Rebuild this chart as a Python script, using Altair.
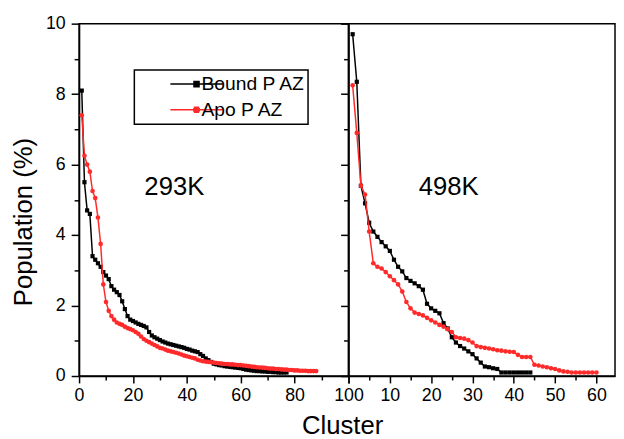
import altair as alt
import pandas as pd

series_names = ["Bound P AZ", "Apo P AZ"]
series_colors = ["#000000", "#ff2a2a"]
series_marks = ["square", "circle"]
panel_labels = ["293K", "498K"]

bound_293 = [8.1, 5.5, 4.7, 4.6, 3.4, 3.3, 3.2, 3.1, 2.95, 2.85,
             2.75, 2.55, 2.45, 2.38, 2.3, 2.12, 1.9, 1.7, 1.6, 1.56,
             1.52, 1.48, 1.45, 1.42, 1.38, 1.25, 1.15, 1.1, 1.06, 1.02,
             0.98, 0.95, 0.92, 0.9, 0.88, 0.86, 0.84, 0.82, 0.8, 0.77,
             0.75, 0.72, 0.7, 0.68, 0.62, 0.57, 0.5, 0.45, 0.4, 0.35,
             0.33, 0.31, 0.3, 0.28, 0.27, 0.26, 0.25, 0.24, 0.23, 0.22,
             0.2, 0.18, 0.17, 0.16, 0.15, 0.14, 0.14, 0.13, 0.13, 0.12,
             0.12, 0.11, 0.11, 0.1, 0.1, 0.1, 0.1]
apo_293 = [7.4, 6.25, 6.0, 5.8, 5.25, 5.05, 4.5, 3.75, 2.6, 2.1,
           1.85, 1.7, 1.6, 1.52, 1.48, 1.45, 1.4, 1.36, 1.33, 1.3,
           1.25, 1.2, 1.12, 1.05, 1.0, 0.96, 0.92, 0.88, 0.84, 0.8,
           0.78, 0.75, 0.72, 0.7, 0.68, 0.66, 0.64, 0.61, 0.58, 0.56,
           0.54, 0.52, 0.5, 0.46, 0.44, 0.42, 0.41, 0.4, 0.39, 0.38,
           0.37, 0.36, 0.35, 0.34, 0.34, 0.33, 0.33, 0.32, 0.31, 0.31,
           0.3, 0.29, 0.28, 0.27, 0.26, 0.25, 0.24, 0.24, 0.23, 0.22,
           0.21, 0.21, 0.2, 0.2, 0.19, 0.18, 0.18, 0.17, 0.17, 0.16,
           0.16, 0.15, 0.15, 0.15, 0.14, 0.14, 0.14, 0.14]
bound_498 = [9.7, 8.35, 5.4, 4.9, 4.35, 4.1, 3.95, 3.8, 3.68, 3.55,
             3.3, 3.1, 2.97, 2.78, 2.7, 2.63, 2.55, 2.45, 2.05, 1.92,
             1.85, 1.78, 1.5, 1.35, 1.1, 0.95, 0.85, 0.78, 0.7, 0.62,
             0.5, 0.38, 0.27, 0.25, 0.22, 0.2, 0.1, 0.1, 0.1, 0.1,
             0.1, 0.1, 0.1, 0.1]
apo_498 = [8.25, 6.9, 5.4, 5.15, 4.1, 3.2, 3.1, 3.05, 2.95, 2.83,
           2.72, 2.6, 2.4, 2.1, 1.92, 1.8, 1.76, 1.72, 1.65, 1.58,
           1.52, 1.45, 1.4, 1.33, 1.25, 1.1, 1.08, 1.06, 1.02, 0.95,
           0.85, 0.82, 0.8, 0.78, 0.76, 0.73, 0.72, 0.7, 0.69, 0.68,
           0.6, 0.54, 0.54, 0.54, 0.32, 0.3, 0.27, 0.25, 0.22, 0.2,
           0.16, 0.13, 0.12, 0.1, 0.1, 0.1, 0.1, 0.1, 0.1, 0.1]

x_ticks_left = list(range(0, 101, 10))
x_ticks_right = list(range(0, 61, 5))
y_ticks = list(range(0, 11))

FONT = "Liberation Sans"
# legend glyphs: a line with a (hatch-filled) square / round marker in its middle
SQ_PATH = ("M0,0L2,0M0.875,-0.1L1.125,-0.1M0.875,-0.05L1.125,-0.05"
           "M0.875,0.05L1.125,0.05M0.875,0.1L1.125,0.1")
CI_PATH = ("M0,0L2,0M0.869,-0.05L1.131,-0.05M0.869,0.05L1.131,0.05"
           "M0.902,-0.1L1.098,-0.1M0.902,0.1L1.098,0.1")

legend_color_expr = "indexof(%s, datum.value) === 1 ? '%s' : '%s'" % (
    str(series_names), series_colors[1], series_colors[0])


def frame(bound, apo):
    rows = []
    for name, vals in zip(series_names, [bound, apo]):
        for i, v in enumerate(vals, start=1):
            rows.append({"cluster": i, "pop": v, "series": name})
    return pd.DataFrame(rows)


def cond(test, major, minor):
    return {"condition": {"test": test, "value": major}, "value": minor}


legend = alt.Legend(
    title=None, orient="none", legendX=56, legendY=47, direction="vertical",
    symbolSize=2809, symbolStrokeWidth=1.5, clipHeight=24.5, rowPadding=1,
    padding=2, symbolOffset=7, labelOffset=4, labelFontSize=19.5,
    labelFont=FONT, labelColor="black", strokeColor="black", fillColor="white",
    symbolStrokeColor={"expr": legend_color_expr}, labelLimit=300,
)


def panel(df, xdom, width, xaxis, yaxis, text, tx, show_legend):
    X = alt.X("cluster:Q", scale=alt.Scale(domain=xdom, nice=False, zero=False), axis=xaxis)
    Y = alt.Y("pop:Q", scale=alt.Scale(domain=[0, 10], nice=False), axis=yaxis)
    base = alt.Chart(df)
    layers = []
    for name, col, shp in zip(series_names, series_colors, series_marks):
        sub = base.transform_filter(alt.datum.series == name)
        layers.append(sub.mark_line(color=col, strokeWidth=1.5).encode(x=X, y=Y))
        layers.append(sub.mark_point(shape=shp, filled=True, color=col, opacity=1,
                                     size=18 if shp == "square" else 22).encode(x=X, y=Y))
    if show_legend:
        shape = alt.Shape("series:N", scale=alt.Scale(domain=series_names, range=[SQ_PATH, CI_PATH]),
                          legend=legend)
        leg_layer = base.transform_filter("datum.cluster < 0").mark_point(
            filled=False, opacity=1, strokeWidth=1.5, color="black").encode(x=X, y=Y, shape=shape)
        layers.append(leg_layer)
    lab = alt.Chart(pd.DataFrame({"label": [text]})).mark_text(
        font=FONT, fontSize=26, color="black", align="center", baseline="middle"
    ).encode(x=alt.value(tx), y=alt.value(166), text="label:N")
    layers.append(lab)
    return alt.layer(*layers).properties(width=width, height=357)


x_axis_left = alt.Axis(
    values=x_ticks_left,
    labelExpr="datum.value % 20 === 0 ? datum.label : ''",
    tickSize=cond("datum.value % 20 === 0", 7, 4),
    labelFlush=False, labelOverlap=False, labelPadding=4, grid=False,
    title="Cluster", titleX=266.5, titleY=58, titleBaseline="alphabetic",
    titleAlign="center", titleFontSize=26,
)
x_axis_right = alt.Axis(
    values=x_ticks_right,
    labelExpr="datum.value % 10 === 0 && datum.value > 0 ? datum.label : ''",
    tickSize=cond("datum.value % 10 === 0", 7, 4),
    labelFlush=False, labelOverlap=False, labelPadding=4, grid=False, title=None,
)
y_axis_left = alt.Axis(
    values=y_ticks,
    labelExpr="datum.value % 2 === 0 ? datum.label : ''",
    tickSize=cond("datum.value % 2 === 0", 8, 5),
    labelPadding=6, grid=False, labelOverlap=False,
    title="Population (%)", titleX=-56.5, titleY=200.5, titleAngle=270,
    titleBaseline="middle", titleAlign="center", titleFontSize=26,
)
y_axis_right = alt.Axis(
    values=y_ticks, labels=False, grid=False,
    tickSize=cond("datum.value % 2 === 0", 8, 5), title=None,
)

left = panel(frame(bound_293, apo_293), [0, 100], 273, x_axis_left, y_axis_left,
             panel_labels[0], 96.5, True)
right = panel(frame(bound_498, apo_498), [0, 64.5], 270, x_axis_right, y_axis_right,
              panel_labels[1], 101.5, False)

chart = alt.hconcat(left, right, spacing=0, bounds="flush").resolve_scale(
    x="independent", y="independent"
).properties(
    padding={"left": 1, "top": 3, "right": 0, "bottom": 0}
).configure_view(stroke="black", strokeWidth=1.5).configure_axis(
    labelFont=FONT, titleFont=FONT, labelFontSize=18, labelColor="black",
    titleColor="black", titleFontWeight="normal", domainColor="black",
    tickColor="black", domainWidth=1.5, tickWidth=1.5,
).configure_legend(strokeWidth=1.5)

chart.save("out.html", embed_options={"renderer": "svg", "actions": False})
